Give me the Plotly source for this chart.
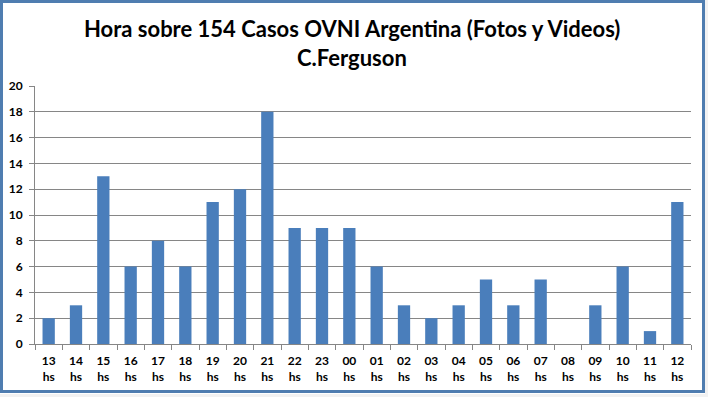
import plotly.graph_objects as go

hours = ["13", "14", "15", "16", "17", "18", "19", "20", "21", "22", "23", "00",
         "01", "02", "03", "04", "05", "06", "07", "08", "09", "10", "11", "12"]
cases = [2, 3, 13, 6, 8, 6, 11, 12, 18, 9, 9, 9, 6, 3, 2, 3, 5, 3, 5, 0, 3, 6, 1, 11]
tick_labels = [h + "<br>hs" for h in hours]
y_ticks = list(range(0, 21, 2))

W, H = 708, 397
L, R, T, B = 35, 17, 86, 53
pw, ph = W - L - R, H - T - B

def px(x):
    return (x - L) / pw

def py(y):
    return (H - B - y) / ph

fig = go.Figure(go.Bar(
    x=tick_labels, y=cases,
    marker=dict(color="#4A7EBB", line=dict(width=0)),
    width=0.45,
))

fig.update_layout(
    width=W, height=H,
    margin=dict(l=L, r=R, t=T, b=B, autoexpand=False),
    paper_bgcolor="white", plot_bgcolor="white",
    showlegend=False,
    font=dict(family="Lato, 'Open Sans', sans-serif", color="black"),
    xaxis=dict(
        type="category",
        tickfont=dict(size=12, weight="bold"),
        showline=True, linecolor="#868686", linewidth=1,
        ticks="outside", ticklen=5, tickcolor="#868686",
        tickson="boundaries",
        showgrid=False,
        ticklabelstandoff=6,
    ),
    yaxis=dict(
        range=[0, 20], tickvals=y_ticks,
        tickfont=dict(size=12, weight="bold"),
        showline=True, linecolor="#868686", linewidth=1,
        ticks="outside", ticklen=5, tickcolor="#868686",
        showgrid=True, gridcolor="#868686", gridwidth=1,
        zeroline=False,
        ticklabelstandoff=4,
    ),
    shapes=[
        dict(type="rect", xref="paper", yref="paper",
             x0=px(0), x1=px(W), y0=py(H), y1=py(394),
             line=dict(width=0), fillcolor="#F2F2F2", layer="below"),
        dict(type="rect", xref="paper", yref="paper",
             x0=px(705), x1=px(W), y0=py(H), y1=py(0),
             line=dict(width=0), fillcolor="#F2F2F2", layer="below"),
        dict(type="rect", xref="paper", yref="paper",
             x0=px(1.5), x1=px(703.5), y0=py(391.5), y1=py(1.5),
             line=dict(color="#4F7DB0", width=3), fillcolor="rgba(0,0,0,0)"),
    ],
    annotations=[
        dict(text="Hora sobre 154 Casos OVNI Argentina (Fotos y Videos)",
             xref="paper", yref="paper", x=px(352), y=py(28),
             xanchor="center", yanchor="middle", showarrow=False,
             font=dict(size=22, weight="bold", color="black")),
        dict(text="C.Ferguson",
             xref="paper", yref="paper", x=px(352), y=py(57),
             xanchor="center", yanchor="middle", showarrow=False,
             font=dict(size=22, weight="bold", color="black")),
    ],
)

fig.write_html("out.html", config={"displayModeBar": False},
               post_script="document.body.style.margin='0';document.body.style.overflow='hidden';")
